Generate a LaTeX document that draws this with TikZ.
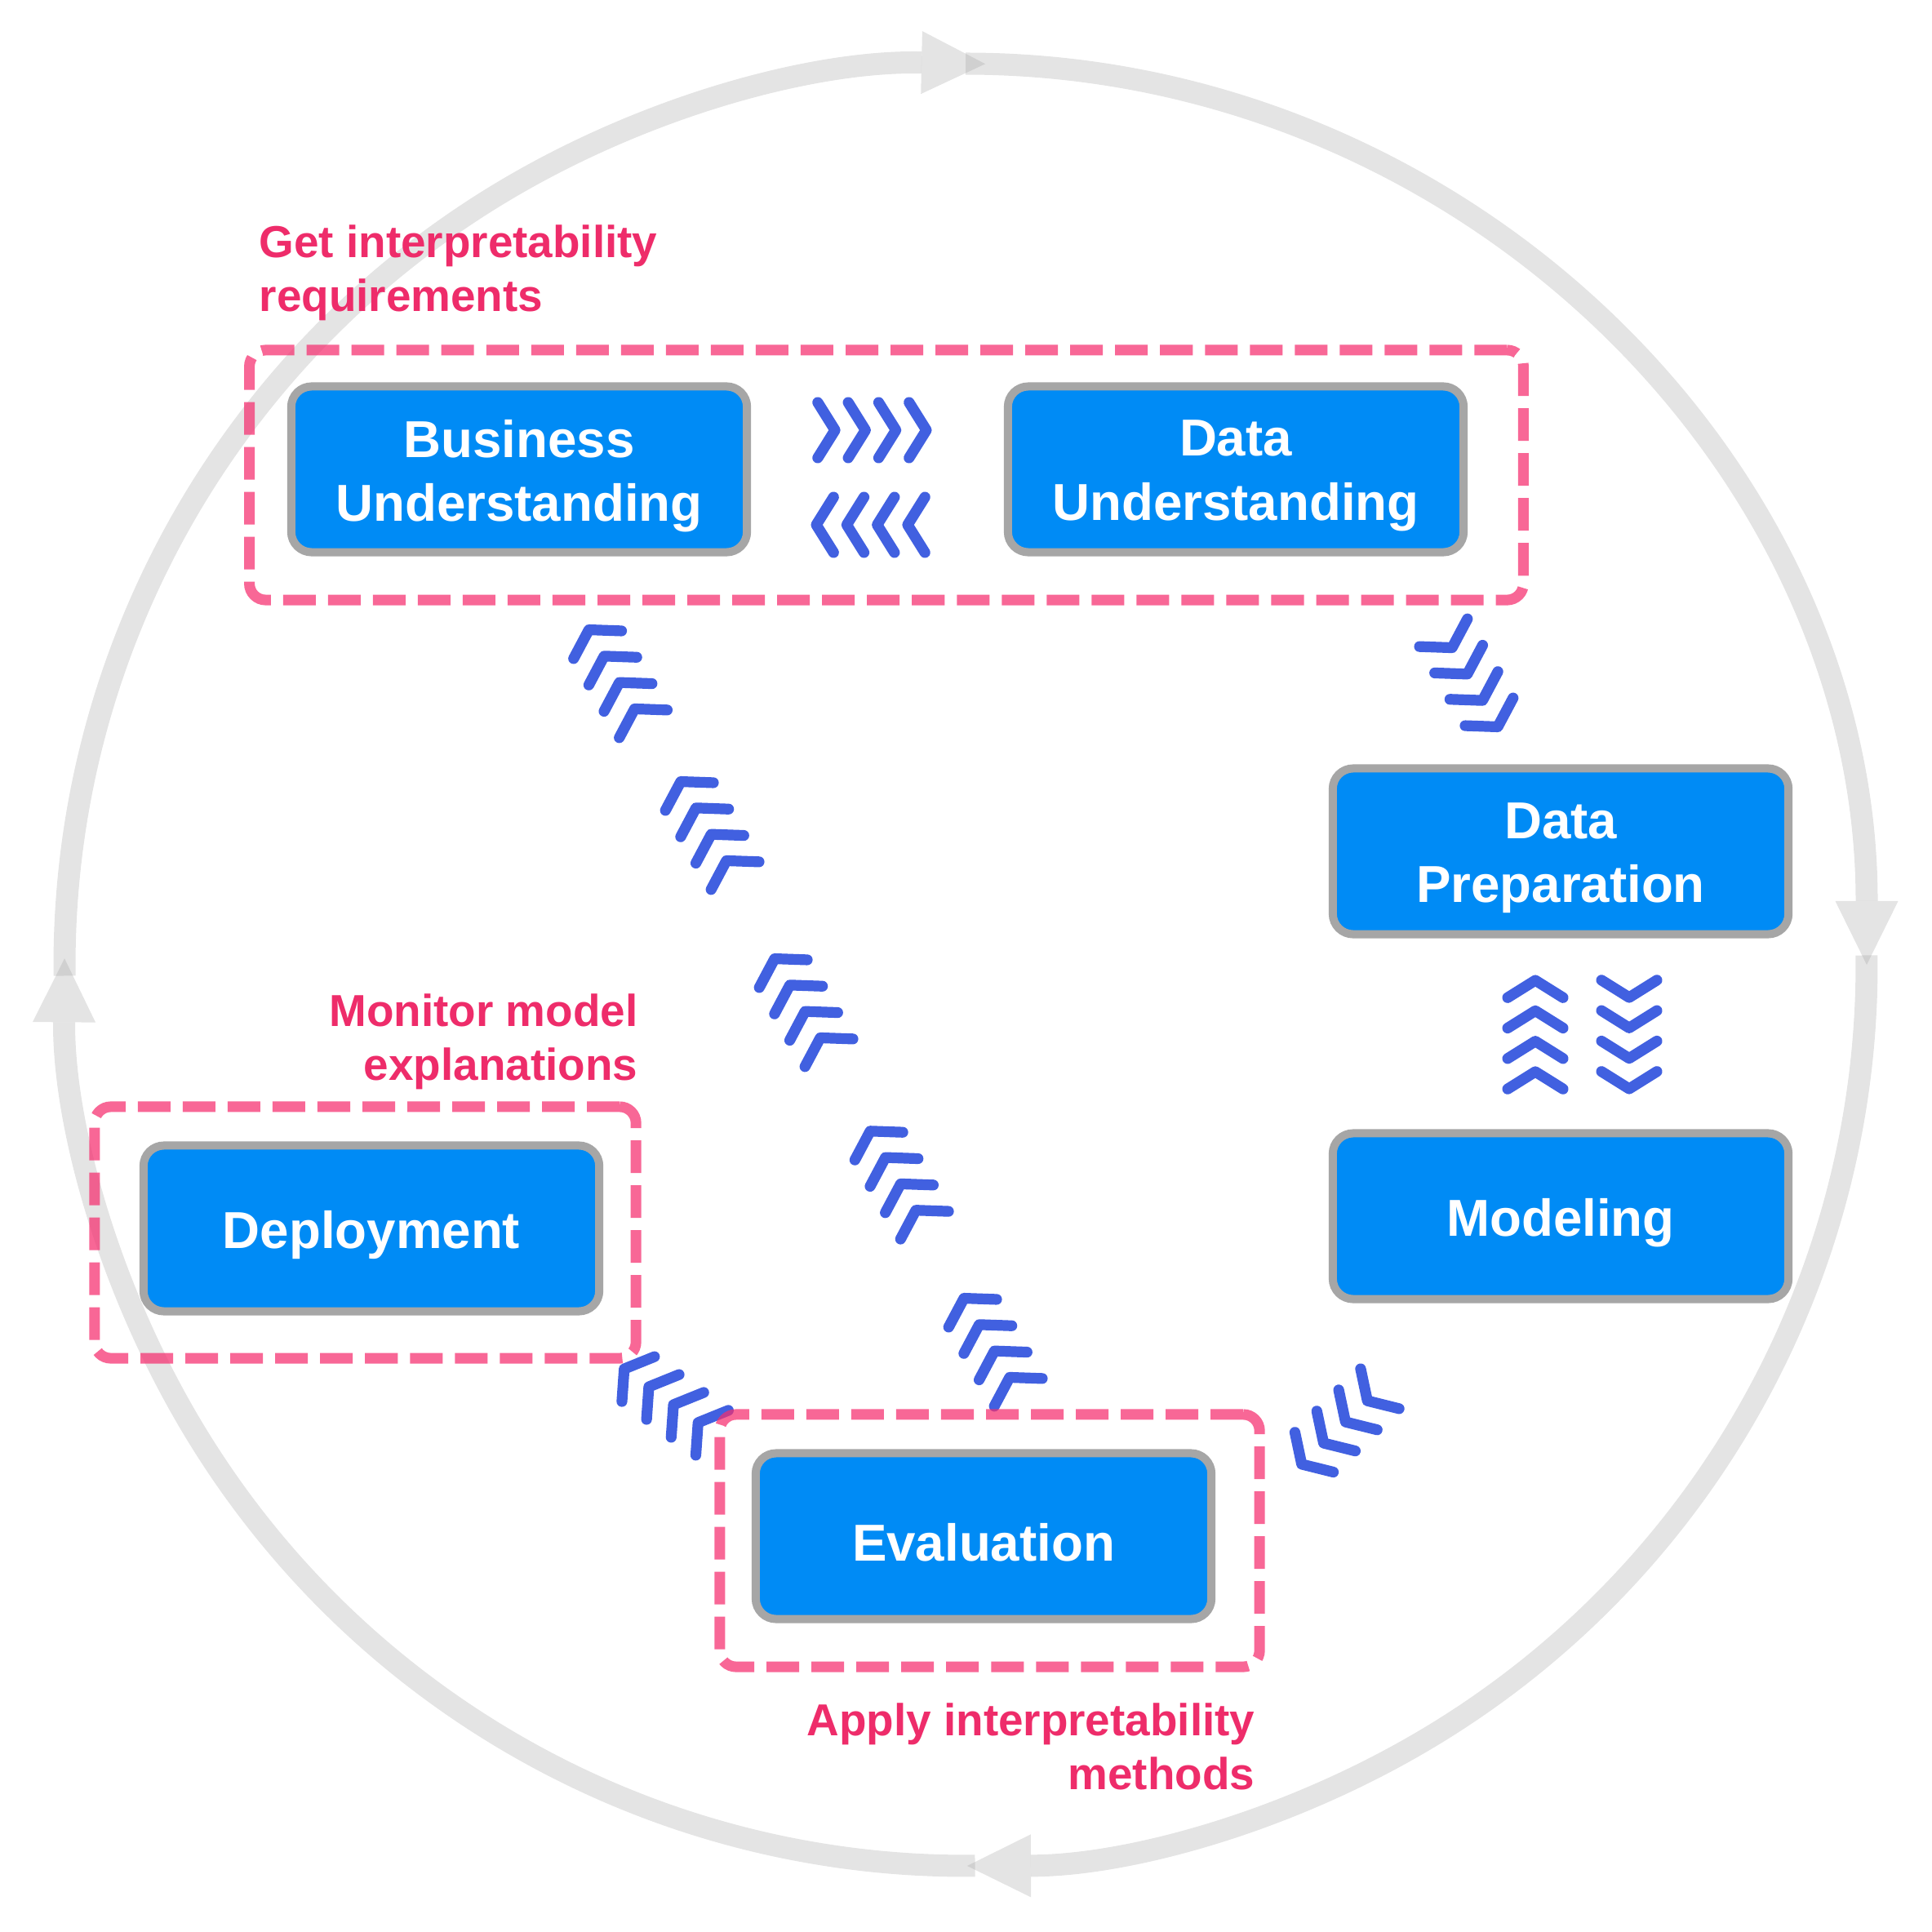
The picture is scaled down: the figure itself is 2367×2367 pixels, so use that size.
\documentclass[tikz,border=0pt]{standalone}
\usepackage{fontspec}
\setmainfont{Liberation Sans}
\usetikzlibrary{arrows.meta,calc}
\definecolor{boxblue}{RGB}{0,139,245}
\definecolor{boxgray}{RGB}{166,166,166}
\definecolor{chevblue}{RGB}{65,96,224}
\definecolor{pinkline}{RGB}{245,45,110}
\definecolor{pinktext}{RGB}{238,44,106}
\definecolor{ringgray}{RGB}{150,150,150}
\newcommand\chevgroup[3]{%
  \foreach \k in {-1.5,-0.5,0.5,1.5}{%
    \draw[chev] ($(#1,#2)+(#3:\k*37.3)+(#3+122:40)$) -- ($(#1,#2)+(#3:\k*37.3)$) -- ($(#1,#2)+(#3:\k*37.3)+(#3-122:40)$);
  }%
}
\begin{document}
\begin{tikzpicture}[x=0.01cm,y=-0.01cm,
  phase/.style={draw=boxgray, line width=0.1cm, fill=boxblue, rounded corners=0.25cm,
    minimum width=5.58cm, minimum height=2.03cm, inner sep=0},
  phasetext/.style={text=white, font=\fontsize{18.1}{22.3}\selectfont\bfseries,
    align=center, inner sep=0, yshift=-0.08cm},
  zone/.style={draw=pinkline, draw opacity=0.72, line width=0.13cm,
    dash pattern=on 0.4cm off 0.15cm, rounded corners=0.2cm, inner sep=0},
  note/.style={text=pinktext, font=\fontsize{15.6}{18.8}\selectfont\bfseries, inner sep=0},
  ring/.style={draw=ringgray, opacity=0.26, line width=0.27cm,
    -{Triangle[length=0.78cm,width=0.77cm,line width=0pt,fill=ringgray]}},
  chev/.style={draw=chevblue, line width=0.132cm, line cap=round, line join=round},
]
\useasboundingbox (0,0) rectangle (2367,2367);

% outer cycle
\draw[ring] (1183,1182) ++(179.3:1104) arc[start angle=179.3, end angle=271.25, radius=1104];
\draw[ring] (1183,1182) ++(270:1104) arc[start angle=270, end angle=360, radius=1104];
\draw[ring] (1183,1182) ++(-0.6:1104) arc[start angle=-0.6, end angle=89.9, radius=1104];
\draw[ring] (1183,1182) ++(89.4:1104) arc[start angle=89.4, end angle=180.4, radius=1104];

% chevron flows
\chevgroup{1079}{527}{0}
\chevgroup{1056}{643}{180}
\chevgroup{1807}{842}{60}
\chevgroup{1996}{1278}{90}
\chevgroup{1881}{1257}{270}
\chevgroup{1635}{1755}{136}
\chevgroup{810}{1710}{216}
\chevgroup{749.5}{820}{240}
\chevgroup{862}{1006}{240}
\chevgroup{977}{1223}{240}
\chevgroup{1094.1}{1434.25}{240}
\chevgroup{1209}{1639}{240}

% dashed zones
\node[zone, minimum width=15.6cm, minimum height=3.06cm] (zoneA) at (1086,582) {};
\node[zone, minimum width=6.63cm, minimum height=3.08cm] (zoneB) at (447.5,1510) {};
\node[zone, minimum width=6.61cm, minimum height=3.09cm] (zoneC) at (1212.5,1887.5) {};

% phases
\node[phase, label={[phasetext]center:Business\\Understanding}] (bu) at (636,575) {};
\node[phase, label={[phasetext]center:Data\\Understanding}] (du) at (1514,575) {};
\node[phase, label={[phasetext]center:Data\\Preparation}] (dp) at (1912,1043) {};
\node[phase, label={[phasetext]center:Modeling}] (mo) at (1912,1490) {};
\node[phase, label={[phasetext]center:Deployment}] (de) at (455,1505) {};
\node[phase, label={[phasetext]center:Evaluation}] (ev) at (1205,1882) {};

% notes
\node[note, anchor=west, align=left] (n1) at (317,334) {Get interpretability\\requirements};
\node[note, anchor=east, align=right] (n2) at (782,1276) {Monitor model\\explanations};
\node[note, anchor=east, align=right] (n3) at (1538,2140) {Apply interpretability\\methods};
\end{tikzpicture}
\end{document}
